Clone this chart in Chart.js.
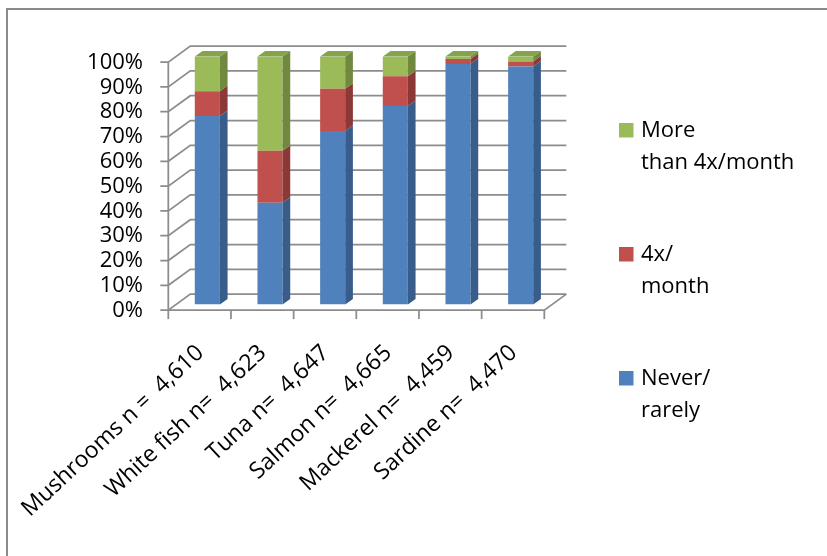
<!DOCTYPE html>
<html>
<head>
<meta charset="utf-8">
<script src="https://cdn.jsdelivr.net/npm/chart.js@4/dist/chart.umd.min.js"></script>
<style>
html,body{margin:0;padding:0;background:#fff;}
#wrap{width:827px;height:556px;position:relative;}
</style>
</head>
<body>
<div id="wrap"><canvas id="c" width="827" height="556"></canvas></div>
<script>
const categories = ["Mushrooms n =  4,610", "White fish n=  4,623", "Tuna n=  4,647", "Salmon n=  4,665", "Mackerel n=  4,459", "Sardine n=  4,470"];
const neverRarely = [76, 41, 70, 80, 97, 96];
const fourPerMonth = [10, 21, 17, 12, 2, 2];
const moreThanFour = [14, 38, 13, 8, 1, 2];
const seriesNames = ["Never/ rarely", "4x/ month", "More than 4x/month"];
const legendLines = [["Never/", "rarely"], ["4x/", "month"], ["More", "than 4x/month"]];
const yTicks = [0, 10, 20, 30, 40, 50, 60, 70, 80, 90, 100];

const frontColors = ["#4F81BD", "#C0504D", "#9BBB59"];
const sideColors = ["#385D8A", "#8C3836", "#71893F"];
const topColors = ["#4A78B0", "#B24A47", "#85A34A"];

const FONT = "'Open Sans', sans-serif";
const DX = 22, DY = -16;
const BAR_F = 0.35;
const BAR_D = 0.35;
const GRID = "#8c8c8c";

const threeD = {
  id: 'threeD',
  beforeDatasetsDraw(chart) {
    const ctx = chart.ctx, ys = chart.scales.y, xs = chart.scales.x;
    const L = chart.chartArea.left, R = chart.chartArea.right;
    const fx = -BAR_F * DX, fy = -BAR_F * DY;
    const bx = (1 - BAR_F) * DX, by = (1 - BAR_F) * DY;
    ctx.save();
    ctx.strokeStyle = GRID;
    ctx.lineWidth = 1.75;
    yTicks.forEach(v => {
      const y = ys.getPixelForValue(v);
      ctx.beginPath();
      ctx.moveTo(L + fx - 8, y + fy);
      ctx.lineTo(L + fx, y + fy);
      ctx.lineTo(L + bx, y + by);
      ctx.lineTo(R + bx, y + by);
      ctx.stroke();
    });
    const y0 = ys.getPixelForValue(0), y100 = ys.getPixelForValue(100);
    ctx.beginPath();
    ctx.moveTo(L + fx, y100 + fy);
    ctx.lineTo(L + fx, y0 + fy);
    ctx.stroke();
    ctx.beginPath();
    ctx.moveTo(L + fx, y0 + fy);
    ctx.lineTo(R + fx, y0 + fy);
    ctx.lineTo(R + bx, y0 + by);
    ctx.stroke();
    const n = categories.length;
    const half = (xs.getPixelForValue(1) - xs.getPixelForValue(0)) / 2;
    for (let i = 0; i <= n; i++) {
      const px = (i < n ? xs.getPixelForValue(i) - half : xs.getPixelForValue(n - 1) + half) + fx;
      ctx.beginPath();
      ctx.moveTo(px, y0 + fy);
      ctx.lineTo(px, y0 + fy + 9);
      ctx.stroke();
    }
    ctx.restore();
  },
  afterDatasetsDraw(chart) {
    const ctx = chart.ctx;
    const dx = BAR_D * DX, dy = BAR_D * DY;
    const nds = chart.data.datasets.length;
    ctx.save();
    chart.data.datasets.forEach((ds, di) => {
      const meta = chart.getDatasetMeta(di);
      meta.data.forEach((bar) => {
        const p = bar.getProps(['x', 'y', 'base', 'width'], true);
        const xl = p.x - p.width / 2, xr = p.x + p.width / 2;
        const top = Math.min(p.y, p.base), bot = Math.max(p.y, p.base);
        ctx.fillStyle = sideColors[di];
        ctx.beginPath();
        ctx.moveTo(xr, top);
        ctx.lineTo(xr + dx, top + dy);
        ctx.lineTo(xr + dx, bot + dy);
        ctx.lineTo(xr, bot);
        ctx.closePath();
        ctx.fill();
        if (di === nds - 1) {
          ctx.fillStyle = topColors[di];
          ctx.beginPath();
          ctx.moveTo(xl, top);
          ctx.lineTo(xr, top);
          ctx.lineTo(xr + dx, top + dy);
          ctx.lineTo(xl + dx, top + dy);
          ctx.closePath();
          ctx.fill();
        }
      });
    });
    ctx.restore();
  },
  afterDraw(chart) {
    const ctx = chart.ctx;
    ctx.save();
    ctx.strokeStyle = "#8a8a8a";
    ctx.lineWidth = 2;
    ctx.strokeRect(7, 9, 900, 700);
    ctx.font = "22px " + FONT;
    ctx.textBaseline = 'middle';
    ctx.textAlign = 'left';
    const firstY = 130.5, step = 124, lineGap = 32;
    const order = [2, 1, 0];
    order.forEach((di, k) => {
      const cy = firstY + k * step;
      ctx.fillStyle = frontColors[di];
      ctx.fillRect(619, cy - 7.5, 14.5, 14.5);
      ctx.fillStyle = "#000";
      legendLines[di].forEach((t, li) => ctx.fillText(t, 641, cy + li * lineGap));
    });
    ctx.restore();
  }
};

Chart.defaults.font.family = FONT;
Chart.defaults.color = "#000";

new Chart(document.getElementById('c'), {
  type: 'bar',
  data: {
    labels: categories,
    datasets: [
      { label: seriesNames[0], data: neverRarely, backgroundColor: frontColors[0] },
      { label: seriesNames[1], data: fourPerMonth, backgroundColor: frontColors[1] },
      { label: seriesNames[2], data: moreThanFour, backgroundColor: frontColors[2] }
    ]
  },
  options: {
    responsive: false,
    animation: false,
    layout: { padding: { left: 0, right: 275, top: 56.5, bottom: 0 } },
    plugins: { legend: { display: false }, tooltip: { enabled: false } },
    datasets: { bar: { categoryPercentage: 1, barPercentage: 0.4, borderWidth: 0 } },
    scales: {
      x: {
        stacked: true,
        grid: { display: false, drawTicks: false },
        border: { display: false },
        ticks: { font: { size: 23 }, maxRotation: 43, minRotation: 43, autoSkip: false, padding: 35, labelOffset: -7 },
        afterFit(s) { s.height = 251.5; s.paddingLeft = 0; s.paddingRight = 0; }
      },
      y: {
        stacked: true,
        min: 0, max: 100,
        grid: { display: false, drawTicks: false },
        border: { display: false },
        ticks: { stepSize: 10, autoSkip: false, font: { size: 22 }, padding: 33, labelOffset: 6, callback: v => v + '%' },
        afterFit(s) { s.width = 176; s.paddingTop = 0; s.paddingBottom = 0; }
      }
    }
  },
  plugins: [threeD]
});
</script>
</body>
</html>
